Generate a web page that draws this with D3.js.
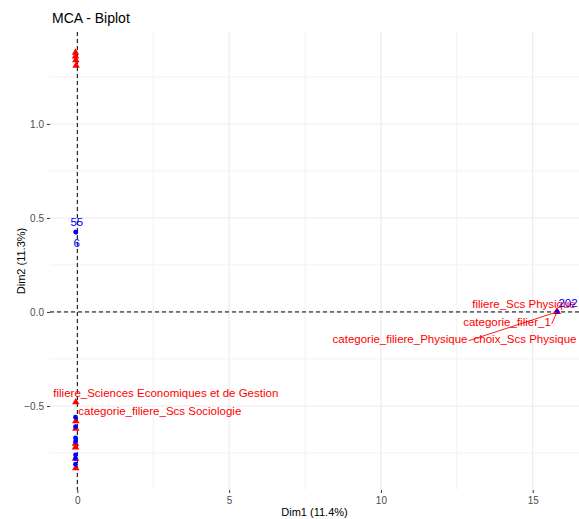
<!DOCTYPE html>
<html>
<head>
<meta charset="utf-8">
<script src="https://cdn.jsdelivr.net/npm/d3@7"></script>
<style>
  html, body { margin: 0; padding: 0; background: #fff; }
  svg { display: block; font-family: "Liberation Sans", Arial, sans-serif; }
</style>
</head>
<body>
<svg id="chart" width="579" height="519"></svg>
<script>
// Individuals (rows), coordinates on Dim1 / Dim2
const indIds = ["55", "6", "12", "31", "44", "70", "88", "97", "120", "202"];
const indDim1 = [-0.05, -0.05, -0.06, -0.06, -0.06, -0.06, -0.06, -0.06, -0.06, 15.8];
const indDim2 = [0.425, 0.425, -0.56, -0.61, -0.67, -0.69, -0.76, -0.78, -0.81, 0.0];
const indShown = ["55", "6", "202"];

// Variable categories (columns)
const varNames = [
  "choix_Autre", "filiere_Autre", "categorie_filiere_Autre", "choix_Autre_2",
  "filiere_Sciences Economiques et de Gestion", "categorie_filiere_Scs Sociologie",
  "choix_Sociologie", "filiere_Sociologie", "categorie_filier_2", "choix_Economie", "categorie_filier_3",
  "filiere_Scs Physique", "categorie_filier_1", "categorie_filiere_Physique", "choix_Scs Physique"
];
const varDim1 = [-0.06, -0.06, -0.05, -0.04, -0.05, -0.05, -0.05, -0.06, -0.06, -0.06, -0.05, 15.8, 15.8, 15.8, 15.8];
const varDim2 = [1.38, 1.36, 1.34, 1.31, -0.48, -0.58, -0.62, -0.70, -0.72, -0.78, -0.83, 0.0, 0.0, 0.0, 0.0];
const varShown = [
  "filiere_Sciences Economiques et de Gestion", "categorie_filiere_Scs Sociologie",
  "filiere_Scs Physique", "categorie_filier_1", "categorie_filiere_Physique", "choix_Scs Physique"
];

const xTicks = [0, 5, 10, 15];
const yTicks = [-0.5, 0.0, 0.5, 1.0];

// Repelled label offsets (pixels, from the point to the text centre)
const labelOffsets = {
  "55": [1, -10, false],
  "6": [1, 11, false],
  "202": [11, -9, false],
  "filiere_Sciences Economiques et de Gestion": [90, -9, false],
  "categorie_filiere_Scs Sociologie": [84, -10, false],
  "filiere_Scs Physique": [-33, -8, false],
  "categorie_filier_1": [-50, 10, true],
  "categorie_filiere_Physique": [-157, 27, true],
  "choix_Scs Physique": [-32, 27, false]
};

const svg = d3.select("#chart");
const panel = { left: 50, right: 581, top: 32, bottom: 490 };

const x = d3.scaleLinear().domain([-0.9, 16.59]).range([panel.left, panel.right]);
const y = d3.scaleLinear().domain([-0.947, 1.489]).range([panel.bottom, panel.top]);

const RED = "#FF0000", BLUE = "#0000FF";

// Grid
const grid = svg.append("g");
const xMinor = [2.5, 7.5, 12.5];
const yMinor = [-0.75, -0.25, 0.25, 0.75, 1.25];
grid.selectAll(".xminor").data(xMinor).join("line")
  .attr("x1", d => x(d)).attr("x2", d => x(d))
  .attr("y1", panel.top).attr("y2", panel.bottom)
  .attr("stroke", "#F0F0F0").attr("stroke-width", 0.8);
grid.selectAll(".yminor").data(yMinor).join("line")
  .attr("y1", d => y(d)).attr("y2", d => y(d))
  .attr("x1", panel.left).attr("x2", panel.right)
  .attr("stroke", "#F0F0F0").attr("stroke-width", 0.8);
grid.selectAll(".xmajor").data(xTicks).join("line")
  .attr("x1", d => x(d)).attr("x2", d => x(d))
  .attr("y1", panel.top).attr("y2", panel.bottom)
  .attr("stroke", "#EBEBEB").attr("stroke-width", 1.1);
grid.selectAll(".ymajor").data(yTicks).join("line")
  .attr("y1", d => y(d)).attr("y2", d => y(d))
  .attr("x1", panel.left).attr("x2", panel.right)
  .attr("stroke", "#EBEBEB").attr("stroke-width", 1.1);

// Axes
const xAxis = svg.append("g")
  .attr("transform", `translate(0,${panel.bottom})`)
  .call(d3.axisBottom(x).tickValues(xTicks).tickFormat(d3.format("d")).tickSize(3).tickPadding(4));
const yAxis = svg.append("g")
  .attr("transform", `translate(${panel.left},0)`)
  .call(d3.axisLeft(y).tickValues(yTicks).tickFormat(d3.format(".1f")).tickSize(3).tickPadding(3));
[xAxis, yAxis].forEach(a => {
  a.select(".domain").remove();
  a.selectAll(".tick line").attr("stroke", "#333333");
  a.selectAll(".tick text").attr("fill", "#4D4D4D").attr("font-size", 10)
    .attr("font-family", "Liberation Sans, Arial, sans-serif");
});

// Reference lines through the origin
svg.append("line")
  .attr("x1", x(0)).attr("x2", x(0)).attr("y1", panel.top).attr("y2", panel.bottom)
  .attr("stroke", "#000").attr("stroke-width", 1).attr("stroke-dasharray", "4,3");
svg.append("line")
  .attr("y1", y(0)).attr("y2", y(0)).attr("x1", panel.left).attr("x2", panel.right)
  .attr("stroke", "#000").attr("stroke-width", 1).attr("stroke-dasharray", "4,3");

const inds = indIds.map((id, i) => ({ id, x: indDim1[i], y: indDim2[i] }));
const vars = varNames.map((name, i) => ({ id: name, x: varDim1[i], y: varDim2[i] }));

// Variable categories: red triangles
const tri = d3.symbol().type(d3.symbolTriangle).size(24);
svg.append("g").selectAll("path").data(vars).join("path")
  .attr("d", tri)
  .attr("transform", d => `translate(${x(d.x)},${y(d.y)})`)
  .attr("fill", RED);

// Individuals: blue dots
svg.append("g").selectAll("circle").data(inds).join("circle")
  .attr("cx", d => x(d.x)).attr("cy", d => y(d.y)).attr("r", 2.4)
  .attr("fill", BLUE);

// Labels and their connecting segments
const labelled = [
  ...vars.filter(d => varShown.includes(d.id)).map(d => ({ ...d, color: RED })),
  ...inds.filter(d => indShown.includes(d.id)).map(d => ({ ...d, color: BLUE }))
];
const lblG = svg.append("g");
labelled.forEach(d => {
  const [dx, dy, seg] = labelOffsets[d.id];
  const px = x(d.x), py = y(d.y);
  const t = lblG.append("text")
    .attr("x", px + dx).attr("y", py + dy)
    .attr("text-anchor", "middle").attr("dominant-baseline", "central")
    .attr("font-size", 11.5).attr("fill", d.color)
    .text(d.id);
  if (seg) {
    const bb = t.node().getBBox();
    lblG.append("line")
      .attr("x1", bb.x + bb.width + 1).attr("y1", bb.y + bb.height * 0.65)
      .attr("x2", px).attr("y2", py)
      .attr("stroke", d.color).attr("stroke-width", 0.9);
  }
});

// Titles
svg.append("text").attr("x", 52).attr("y", 23)
  .attr("font-size", 14).attr("fill", "#000").text("MCA - Biplot");
svg.append("text").attr("x", (panel.left + 579) / 2).attr("y", 516)
  .attr("text-anchor", "middle").attr("font-size", 11).attr("fill", "#000").text("Dim1 (11.4%)");
svg.append("text")
  .attr("transform", `translate(25,${(panel.top + panel.bottom) / 2}) rotate(-90)`)
  .attr("text-anchor", "middle").attr("font-size", 11).attr("fill", "#000").text("Dim2 (11.3%)");
</script>
</body>
</html>
